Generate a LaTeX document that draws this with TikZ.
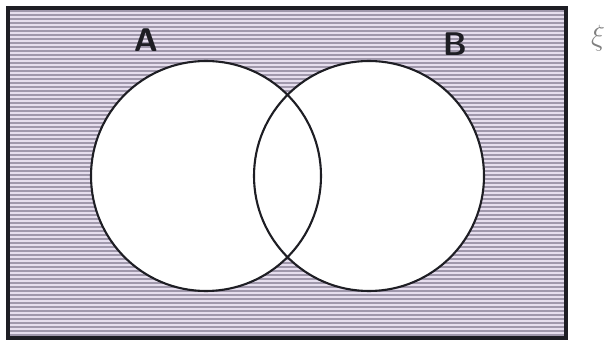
\documentclass[tikz,border=0pt]{standalone}
\usepackage{tikz}
\usetikzlibrary{positioning,calc}
\definecolor{lav}{HTML}{E6DEEE}
\definecolor{stripe}{HTML}{A098AC}
\definecolor{ink}{HTML}{1E1E24}

\begin{document}
\begin{tikzpicture}[x=0.03cm,y=-0.03cm,
  setline/.style={ink,line width=1.8pt},
  setlabel/.style={font=\sffamily\bfseries\fontsize{28}{30}\selectfont,text=ink,inner sep=0pt}]
  \useasboundingbox (0,0) rectangle (612,342);
  % universum
  \fill[lav] (8,8) rectangle (566,338);
  \foreach \y in {11,15,...,337}
    \draw[stripe,line width=1.1pt] (8,\y) -- (566,\y);
  \draw[ink,line width=2.6pt] (8,8) rectangle (566,338);
  % mengen A und B
  \fill[white] (206,176) circle (115);
  \fill[white] (369,176) circle (115);
  \draw[setline] (206,176) circle (115);
  \draw[setline] (369,176) circle (115);
  \node[setlabel] (A) at (146,40) {A};
  \node[setlabel] (B) at (455,44) {B};
  \node[text=gray,font=\fontsize{30}{32}\selectfont,inner sep=0pt] (xi) at (598,38) {$\xi$};
\end{tikzpicture}
\end{document}
